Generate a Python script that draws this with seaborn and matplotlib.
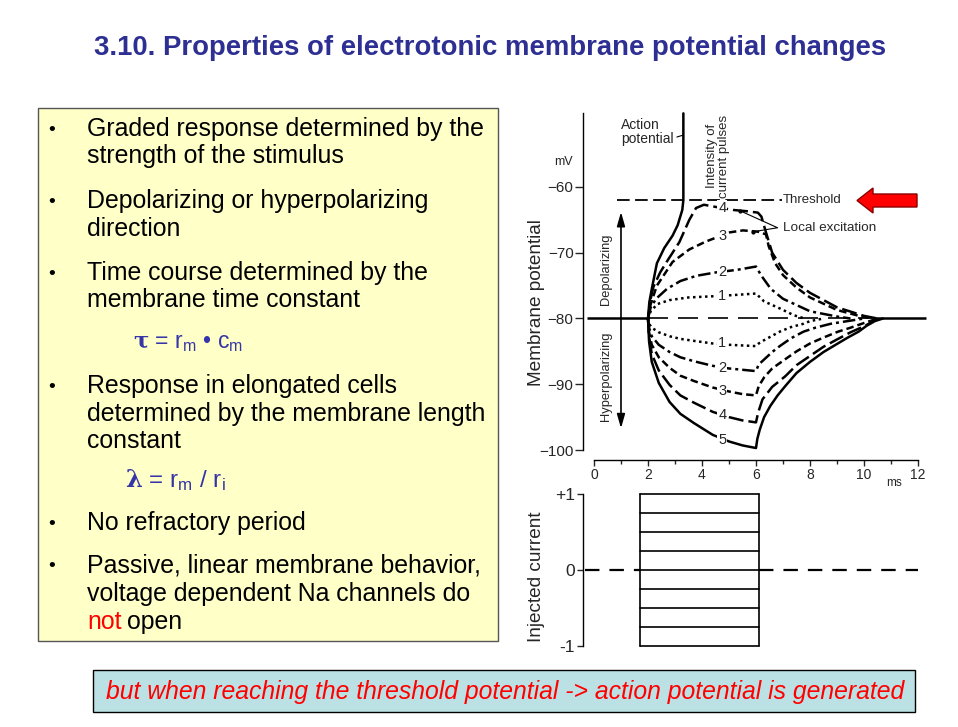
import matplotlib
matplotlib.use("Agg")
import matplotlib.pyplot as plt
import seaborn as sns
from matplotlib import font_manager
from matplotlib.patches import Rectangle, FancyArrow

# ---------------------------------------------------------------- data
# membrane potential traces (ms, mV)
ap_t = [2.0, 2.05, 2.15, 2.33, 2.6, 2.91, 3.1, 3.27, 3.31, 3.31]
ap_v = [-80, -77.5, -75.3, -71.6, -69.3, -67.4, -65.8, -63.5, -62.0, -48.8]

dep1_t = [2.0, 2.1, 2.35, 2.8, 3.5, 4.5, 5.3, 6.0, 6.3, 6.9, 7.4, 7.8]
dep1_v = [-80, -78.9, -77.8, -77.2, -76.8, -76.6, -76.4, -76.2, -77.4, -78.5, -79.5, -80]

dep2_t = [2.0, 2.1, 2.3, 2.7, 3.2, 3.8, 4.5, 5.3, 6.0, 6.2, 6.55, 7.0, 8.0, 9.0, 9.5]
dep2_v = [-80, -78.3, -77.0, -75.5, -74.3, -73.5, -73.0, -72.6, -72.1, -73.5, -75.5, -77.0, -78.9, -79.7, -80]

dep3_t = [2.0, 2.1, 2.33, 2.91, 3.53, 4.14, 5.03, 5.52, 6.07, 6.37, 6.47, 6.71, 7.0, 7.5, 8.0, 9.0, 9.9, 10.3]
dep3_v = [-80, -77.8, -75.0, -71.4, -69.5, -68.3, -66.9, -66.6, -66.8, -67.2, -69.0, -71.6, -73.4, -75.3, -76.8, -78.7, -79.7, -80]

dep4_t = [2.0, 2.1, 2.2, 2.45, 2.69, 3.16, 3.53, 3.78, 4.07, 4.6, 5.17, 5.7, 6.07, 6.2, 6.37, 6.6, 7.0, 7.5, 8.0, 9.0, 10.0, 10.5]
dep4_v = [-80, -77.0, -75.2, -73.0, -71.4, -68.4, -65.0, -63.2, -62.7, -63.1, -63.5, -63.7, -63.9, -64.5, -66.9, -70.0, -72.6, -74.6, -76.1, -78.3, -79.6, -80]

hyp1_t = [2.0, 2.04, 2.14, 2.4, 2.8, 3.2, 3.7, 4.4, 5.0, 5.5, 6.0, 6.1, 6.3, 6.88, 7.3, 7.76, 8.0, 8.5]
hyp1_v = [-80, -80.8, -81.4, -82.1, -82.7, -83.1, -83.4, -83.8, -84.0, -84.1, -84.2, -83.8, -83.3, -82.0, -81.3, -80.8, -80.4, -80]

hyp2_t = [2.0, 2.04, 2.14, 2.4, 2.8, 3.2, 3.7, 4.4, 5.0, 5.5, 6.0, 6.1, 6.31, 6.6, 6.88, 7.3, 7.76, 8.2, 8.77, 9.54, 10.0]
hyp2_v = [-80, -81.4, -82.7, -84.0, -85.1, -85.9, -86.5, -87.2, -87.6, -87.8, -88.0, -87.0, -86.2, -85.1, -84.2, -83.0, -82.0, -81.4, -80.8, -80.3, -80]

hyp3_t = [2.0, 2.04, 2.14, 2.4, 2.8, 3.2, 3.7, 4.4, 5.0, 5.5, 6.0, 6.1, 6.31, 6.6, 7.08, 7.5, 8.0, 8.5, 9.04, 9.5, 9.92, 10.5]
hyp3_v = [-80, -82.1, -84.0, -85.9, -87.5, -88.7, -89.5, -90.5, -91.1, -91.5, -91.7, -90.3, -88.9, -87.6, -86.2, -85.0, -83.8, -82.9, -82.0, -81.4, -80.8, -80]

hyp4_t = [2.0, 2.04, 2.14, 2.4, 2.8, 3.2, 3.7, 4.4, 5.0, 5.5, 6.0, 6.08, 6.24, 6.6, 7.08, 7.5, 8.0, 8.5, 9.04, 9.5, 10.05, 10.5]
hyp4_v = [-80, -82.8, -85.4, -87.9, -90.1, -91.7, -92.8, -94.2, -95.0, -95.5, -95.8, -94.3, -92.3, -90.4, -88.8, -87.1, -85.7, -84.3, -83.1, -82.1, -81.1, -80]

hyp5_t = [2.0, 2.04, 2.14, 2.4, 2.8, 3.2, 3.7, 4.4, 5.0, 5.5, 6.0, 6.05, 6.14, 6.3, 6.53, 6.8, 7.08, 7.5, 8.0, 8.5, 9.03, 9.4, 9.8, 10.1, 10.4, 10.7]
hyp5_v = [-80, -83.5, -86.6, -89.8, -92.7, -94.5, -95.9, -97.7, -98.7, -99.3, -99.7, -98.3, -96.9, -95.0, -93.3, -91.7, -90.3, -88.3, -86.6, -85.1, -83.8, -82.9, -82.0, -81.1, -80.4, -80]

rest_v = -80
threshold_v = -62
pulse_on, pulse_off = 1.7, 6.1
current_levels = [-1, -0.75, -0.5, -0.25, 0, 0.25, 0.5, 0.75, 1]

y_ticks = [-60, -70, -80, -90, -100]
y_labels = ["\u221260", "\u221270", "\u221280", "\u221290", "\u2212100"]
x_ticks = [0, 2, 4, 6, 8, 10, 12]
cur_ticks = [-1, 0, 1]
cur_labels = ["-1", "0", "+1"]

# ---------------------------------------------------------------- style
sns.set_theme(style="white")
plt.rcParams["font.family"] = ["Liberation Sans", "DejaVu Sans"]
plt.rcParams["mathtext.fontset"] = "custom"
plt.rcParams["mathtext.rm"] = "Liberation Sans"
plt.rcParams["mathtext.it"] = "Liberation Sans:italic"
plt.rcParams["mathtext.bf"] = "DejaVu Serif:bold"

names = {f.name for f in font_manager.fontManager.ttflist}
narrow = "Liberation Sans Narrow" if "Liberation Sans Narrow" in names else "Liberation Sans"

W, H = 958, 727
fig = plt.figure(figsize=(W / 100, H / 100), dpi=100)
fig.patch.set_facecolor("white")

def px_axes(l, t, r, b):
    return fig.add_axes([l / W, 1 - b / H, (r - l) / W, (b - t) / H])

# slide layer in pixel coordinates
ax_s = fig.add_axes([0, 0, 1, 1])
ax_s.set_xlim(0, W)
ax_s.set_ylim(H, 0)
ax_s.axis("off")

title = ax_s.text(490, 48, "3.10. Properties of electrotonic membrane potential changes",
                  ha="center", va="center", fontsize=20, fontweight="bold",
                  color="#2D2F92", family=[narrow, "DejaVu Sans"])

BODY = 17.9
ax_s.add_patch(Rectangle((38, 108), 460, 533, fc="#FFFFC8", ec="#555555", lw=1.0))
body_lines = [
    (136, "Graded response determined by the"), (163, "strength of the stimulus"),
    (208, "Depolarizing or hyperpolarizing"), (236, "direction"),
    (280, "Time course determined by the"), (307, "membrane time constant"),
    (393, "Response in elongated cells"), (421, "determined by the membrane length"),
    (448, "constant"), (530, "No refractory period"),
    (572, "Passive, linear membrane behavior,"), (601, "voltage dependent Na channels do"),
]
bullet_y = [136, 208, 280, 393, 530, 572]
for y, s in body_lines:
    ax_s.text(87, y, s, fontsize=BODY, va="baseline", ha="left", color="black")
for y in bullet_y:
    ax_s.text(52, y - 1, "•", fontsize=14, va="baseline", ha="center", color="black")
t_not = ax_s.text(87, 629, "not", fontsize=BODY, va="baseline", color="#FF0000")
ax_s.text(133, 348, "$\\mathbf{τ}$ = $\\mathrm{r_m}$ • $\\mathrm{c_m}$",
          fontsize=16.5, va="baseline", color="#3535A8")
ax_s.text(125, 487, "$\\mathbf{λ}$ = $\\mathrm{r_m}$ / $\\mathrm{r_i}$",
          fontsize=17.5, va="baseline", color="#3535A8")

ax_s.add_patch(Rectangle((93, 670), 822, 42, fc="#BCE1E4", ec="black", lw=1.0))
banner = ax_s.text(505, 692, "but when reaching the threshold potential -> action potential is generated",
                   ha="center", va="center", fontsize=18, style="italic", color="#FF0000",
                   family=[narrow, "DejaVu Sans"])

ax_s.add_patch(FancyArrow(917, 200.5, -60, 0, width=13, head_width=25, head_length=16,
                          length_includes_head=True, fc="#FF0000", ec="#8B0000", lw=1))

ax_s.text(537, 303, "Membrane potential", rotation=90, ha="center", va="center", fontsize=13.7)
ax_s.text(537, 577, "Injected current", rotation=90, ha="center", va="center", fontsize=13.7)
ax_s.text(563, 162, "mV", ha="center", va="center", fontsize=9)
ax_s.text(894, 483, "ms", ha="center", va="center", fontsize=8.5)

# fit title / banner widths and place "open" after "not"
r = fig.canvas.get_renderer()
for txt, target in [(title, 790), (banner, 800)]:
    w = txt.get_window_extent(r).width
    txt.set_fontsize(txt.get_fontsize() * target / w)
bb = t_not.get_window_extent(r)
ax_s.text(87 + bb.width + 6, 629, "open", fontsize=BODY, va="baseline", color="black")

# ---------------------------------------------------------------- membrane potential chart
ax = px_axes(583, 105, 934, 460)
ax.set_facecolor("none")
ax.set_xlim(-0.407, 12.593)
ax.set_ylim(-101.52, -47.53)
for sp in ["top", "right"]:
    ax.spines[sp].set_visible(False)
for sp in ["left", "bottom"]:
    ax.spines[sp].set_color("black")
    ax.spines[sp].set_linewidth(1.0)
ax.spines["left"].set_bounds(-100, -48.8)
ax.spines["bottom"].set_bounds(0, 12)
ax.set_yticks(y_ticks)
ax.set_yticklabels(y_labels)
ax.set_xticks(x_ticks)
ax.set_xticks([1, 3, 5, 7, 9, 11], minor=True)
ax.tick_params(axis="y", direction="out", length=5.8, width=1, pad=1, labelsize=11, left=True)
ax.tick_params(axis="x", which="major", direction="out", length=4.3, width=1, pad=1.5, labelsize=10, bottom=True)
ax.tick_params(axis="x", which="minor", direction="out", length=3, width=1, bottom=True)
ax.grid(False)

LW = 1.8
styles = {1: (0, (1, 1.4)), 2: (0, (5, 1.6, 1.2, 1.6)), 3: (0, (3, 1.6)), 4: (0, (6, 2)), 5: "-"}

# resting level and threshold
ax.plot([-0.26, 2.0], [rest_v, rest_v], color="black", lw=LW, solid_capstyle="butt")
ax.plot([2.0, 10.3], [rest_v, rest_v], color="black", lw=1.2, linestyle=(0, (12, 6)))
ax.plot([10.3, 12.3], [rest_v, rest_v], color="black", lw=LW, solid_capstyle="butt")
ax.plot([0.85, 6.95], [threshold_v, threshold_v], color="black", lw=1.3, linestyle=(0, (7, 3)))

traces = [
    (ap_t, ap_v, 5), (dep1_t, dep1_v, 1), (dep2_t, dep2_v, 2), (dep3_t, dep3_v, 3), (dep4_t, dep4_v, 4),
    (hyp1_t, hyp1_v, 1), (hyp2_t, hyp2_v, 2), (hyp3_t, hyp3_v, 3), (hyp4_t, hyp4_v, 4), (hyp5_t, hyp5_v, 5),
]
for t, v, k in traces:
    sns.lineplot(x=t, y=v, ax=ax, sort=False, estimator=None, color="black",
                 lw=LW, linestyle=styles[k])

for k, v in zip([1, 2, 3, 4], [-76.6, -72.9, -67.5, -63.2]):
    ax.text(4.75, v, str(k), ha="center", va="center", fontsize=10.5,
            bbox=dict(fc="white", ec="none", pad=0.6))
for k, v in zip([1, 2, 3, 4, 5], [-83.8, -87.5, -91.0, -94.7, -98.5]):
    ax.text(4.75, v, str(k), ha="center", va="center", fontsize=10.5,
            bbox=dict(fc="white", ec="none", pad=0.6))

# direction arrows and annotations
ax.annotate("", xy=(1.0, -63.8), xytext=(1.0, rest_v),
            arrowprops=dict(arrowstyle="-|>,head_length=0.7,head_width=0.2", lw=1.2,
                            color="black", shrinkA=0, shrinkB=0))
ax.annotate("", xy=(1.0, -96.7), xytext=(1.0, rest_v),
            arrowprops=dict(arrowstyle="-|>,head_length=0.7,head_width=0.2", lw=1.2,
                            color="black", shrinkA=0, shrinkB=0))
ax.text(0.44, -72.5, "Depolarizing", rotation=90, ha="center", va="center", fontsize=9.3)
ax.text(0.44, -88.8, "Hyperpolarizing", rotation=90, ha="center", va="center", fontsize=9.3)

ax.text(1.0, -51.7, "Action\npotential", ha="left", va="center", fontsize=10, linespacing=1.0)
ax.plot([3.07, 3.31], [-52.4, -52.1], color="black", lw=0.8)
ax.text(4.6, -61.6, "Intensity of\ncurrent pulses", rotation=90, ha="center", va="bottom",
        fontsize=9.5, linespacing=1.0)
ax.text(7.0, threshold_v, "Threshold", ha="left", va="center", fontsize=9.5)
ax.text(7.0, -66.2, "Local excitation", ha="left", va="center", fontsize=9.7)
ax.plot([5.4, 6.8, 5.9], [-63.6, -66.2, -66.8], color="black", lw=0.8)
ax.plot([5.4, 5.9], [-63.6, -66.8], "o", color="black", ms=2)

# ---------------------------------------------------------------- injected current chart
axc = px_axes(583, 488, 934, 650)
axc.set_facecolor("none")
axc.set_xlim(-0.407, 12.593)
axc.set_ylim(-1.053, 1.079)
for sp in ["top", "right", "bottom"]:
    axc.spines[sp].set_visible(False)
axc.spines["left"].set_color("black")
axc.spines["left"].set_linewidth(1.0)
axc.spines["left"].set_bounds(-1, 1)
axc.set_xticks([])
axc.set_yticks(cur_ticks)
axc.set_yticklabels(cur_labels)
axc.tick_params(axis="y", direction="out", length=4, width=1, pad=2, labelsize=12.5, left=True)
axc.grid(False)

for lvl in current_levels:
    axc.plot([pulse_on, pulse_off], [lvl, lvl], color="black", lw=1.2)
for tx in [pulse_on, pulse_off]:
    axc.plot([tx, tx], [current_levels[0], current_levels[-1]], color="black", lw=1.2)
axc.plot([-0.33, pulse_on], [0, 0], color="black", lw=1.6, linestyle=(0, (6.5, 4.5)))
axc.plot([pulse_off, 12.0], [0, 0], color="black", lw=1.6, linestyle=(0, (6.5, 4.5)))

fig.savefig("out.png", dpi=100)
